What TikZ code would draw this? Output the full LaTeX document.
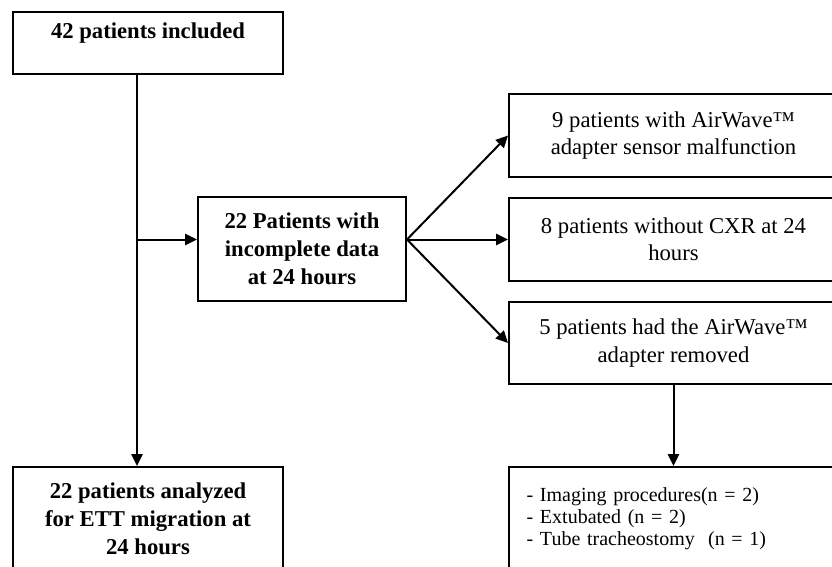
\documentclass[tikz,border=0pt]{standalone}
\usepackage{fontspec}
\setmainfont{Liberation Serif}
\usetikzlibrary{arrows.meta,calc}

\begin{document}
\begin{tikzpicture}[x=0.75pt, y=-0.75pt,
    flowbox/.style={draw, line width=1.5pt, align=center, inner sep=3pt},
    boldtext/.style={font=\fontsize{17}{21}\selectfont\bfseries},
    plaintext/.style={font=\fontsize{17}{20.5}\selectfont},
    listtext/.style={font=\fontsize{15}{16.5}\selectfont},
    arrowline/.style={line width=1.5pt, -{Triangle[length=9pt,width=8.5pt]}}]
      \clip (0,0) rectangle (832,567);
      % left column
      \node[flowbox, boldtext, minimum width=202.5pt, minimum height=46.5pt, text depth=19pt]
        (incl) at (148,43) {42 patients included};
      \node[flowbox, boldtext, minimum width=156pt, minimum height=78pt] (incomplete) at (302,249)
        {22 Patients with\\ incomplete data\\ at 24 hours};
      \node[flowbox, boldtext, minimum width=202.5pt, minimum height=78pt] (analysed) at (148,519)
        {22 patients analyzed\\ for ETT migration at\\ 24 hours};
      % right column
      \node[flowbox, plaintext, minimum width=246.75pt, minimum height=62pt] (sensor) at (673.5,135.5)
        {9 patients with AirWave™\\ adapter sensor malfunction};
      \node[flowbox, plaintext, minimum width=246.75pt, minimum height=62pt] (cxr) at (673.5,239.5)
        {8 patients without CXR at 24\\ hours};
      \node[flowbox, plaintext, minimum width=246.75pt, minimum height=62pt] (removed) at (673.5,343)
        {5 patients had the AirWave™\\ adapter removed};
      \node[flowbox, listtext, align=left, text width=220.25pt, minimum width=246.75pt, minimum height=78pt]
        (reasons) at (673.5,519)
        {- Imaging procedures(n = 2)\\ - Extubated (n = 2)\\ - Tube tracheostomy\ \ (n = 1)};
      % connectors
      \coordinate (trunk) at ([xshift=-8.25pt]incl.south);
      \coordinate (split) at (incomplete.east |- cxr.west);
      \draw[arrowline] (trunk) -- (trunk |- analysed.north);
      \draw[arrowline] (trunk |- cxr.west) -- (incomplete.west |- cxr.west);
      \draw[arrowline] (split) -- (sensor.west);
      \draw[arrowline] (split) -- (cxr.west);
      \draw[arrowline] (split) -- (removed.west);
      \draw[arrowline] (removed.south) -- (reasons.north);
    \end{tikzpicture}
\end{document}
